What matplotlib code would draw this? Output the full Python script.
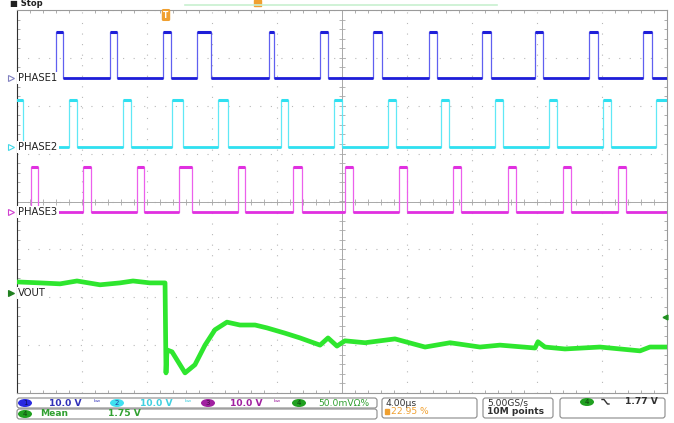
import numpy as np
import matplotlib.pyplot as plt
from matplotlib.patches import FancyBboxPatch, Ellipse, Rectangle

# time in us (4 us/div, 10 div), vertical in screen divisions (8 div)
phase1_pulses = [(-17.60, -17.17), (-14.28, -13.85), (-11.02, -10.52), (-8.92, -8.06),
                 (-4.49, -4.18), (-1.35, -0.86), (1.91, 2.46), (5.35, 5.85),
                 (8.62, 9.17), (11.88, 12.37), (15.20, 15.75), (18.52, 19.08)]
phase2_pulses = [(-21.0, -19.63), (-16.80, -16.31), (-13.48, -12.98), (-10.46, -9.78),
                 (-7.63, -7.02), (-3.75, -3.32), (-0.49, 0.0), (2.83, 3.32),
                 (6.09, 6.58), (9.42, 9.91), (12.74, 13.23), (16.06, 16.55), (19.32, 21.0)]
phase3_pulses = [(-19.14, -18.71), (-15.94, -15.45), (-12.62, -12.18), (-10.03, -9.23),
                 (-6.40, -5.97), (-3.02, -2.46), (0.18, 0.68), (3.51, 4.00),
                 (6.83, 7.32), (10.22, 10.71), (13.60, 14.09), (16.98, 17.48)]
phase1_lvl = (2.58, 3.54)
phase2_lvl = (1.14, 2.12)
phase3_lvl = (-0.22, 0.72)

vout_t = [-20.0, -18.58, -17.35, -16.31, -14.89, -13.66, -12.86, -11.82, -10.89, -10.83,
          -10.77, -10.46, -9.66, -9.05, -8.43, -7.82, -7.08, -6.28, -5.35, -4.62,
          -3.51, -2.58, -1.35, -0.86, -0.31, 0.18, 1.42, 3.26, 5.11, 6.65,
          8.49, 9.72, 11.88, 12.06, 12.49, 13.72, 15.88, 18.34, 18.95, 20.0]
vout_v = [-1.68, -1.70, -1.72, -1.66, -1.74, -1.70, -1.66, -1.70, -1.70, -3.58,
          -3.10, -3.14, -3.58, -3.41, -3.00, -2.68, -2.52, -2.58, -2.58, -2.64,
          -2.75, -2.85, -3.00, -2.85, -3.02, -2.91, -2.95, -2.87, -3.04, -2.95,
          -3.04, -3.00, -3.06, -2.93, -3.04, -3.08, -3.04, -3.12, -3.04, -3.04]

fig = plt.figure(figsize=(6.74, 4.23), dpi=100)
fig.patch.set_facecolor('white')
ax = fig.add_axes([17/674, 30/423, 650/674, 383/423])
ax.set_xlim(-20, 20)
ax.set_ylim(-4, 4)

# graticule
ax.set_xticks(np.arange(-20, 21, 4))
ax.set_yticks(np.arange(-4, 5, 1))
ax.set_xticks(np.arange(-20, 20.01, 0.8), minor=True)
ax.set_yticks(np.arange(-4, 4.01, 0.2), minor=True)
ax.tick_params(which='both', labelbottom=False, labelleft=False, length=0)
ax.tick_params(which='minor', direction='in', length=2.5, color='#a0a0a0',
               top=True, right=True, bottom=True, left=True, width=0.6)
ax.grid(True, which='major', color='#b8b8b8', lw=0.8, ls=(0, (1, 8.5)))
for s in ax.spines.values():
    s.set_color('#9a9a9a')
    s.set_linewidth(0.8)
ax.spines['left'].set_color('#303030')
ax.axhline(0, color='#a8a8a8', lw=0.7)
ax.axvline(0, color='#a8a8a8', lw=0.7)
mx = np.arange(-20, 20.01, 0.8)
my = np.arange(-4, 4.01, 0.2)
ax.plot(mx, np.zeros_like(mx), ls='none', marker='|', ms=4, color='#a8a8a8', mew=0.6)
ax.plot(np.zeros_like(my), my, ls='none', marker='_', ms=4, color='#a8a8a8', mew=0.6)


def draw_phase(pulses, lvl, edge_col, col):
    lo, hi = lvl
    xs, ys = [-20.5], [lo]
    for r, f in pulses:
        xs += [r, r, f, f]
        ys += [lo, hi, hi, lo]
    xs.append(20.5)
    ys.append(lo)
    ax.plot(xs, ys, color=edge_col, lw=0.9, zorder=3)
    starts = [-20.5] + [f for r, f in pulses]
    ends = [r for r, f in pulses] + [20.5]
    ax.hlines([lo] * len(starts), starts, ends, color=col, lw=2.0, zorder=4)
    ax.hlines([hi] * len(pulses), [r for r, f in pulses], [f for r, f in pulses],
              color=col, lw=2.2, zorder=4)


draw_phase(phase1_pulses, phase1_lvl, '#6060f0', '#1e1ed8')
draw_phase(phase2_pulses, phase2_lvl, '#60e8f6', '#30e0f0')
draw_phase(phase3_pulses, phase3_lvl, '#ec60ec', '#e030e0')
ax.plot(vout_t, vout_v, color='#2ee62e', lw=3.4, zorder=4, solid_joinstyle='round')

# channel labels
labels = [('PHASE1', phase1_lvl[0], '#8080c0', 'none'),
          ('PHASE2', phase2_lvl[0], '#40d8e8', 'none'),
          ('PHASE3', phase3_lvl[0], '#d040d0', 'none'),
          ('VOUT', -1.91, '#208020', '#208020')]
for name, y, ec, fc in labels:
    ax.text(-19.92, y, name, fontsize=7.2, color='#202020', va='center', ha='left',
            zorder=6, bbox=dict(boxstyle='square,pad=0.12', fc='white', ec='none'))
    ax.plot([-20.4], [y], marker='>', ms=5, mfc=fc, mec=ec, mew=0.8, clip_on=False, zorder=6)
ax.plot([19.85], [-2.42], marker='<', ms=3.5, color='#209020', clip_on=False, zorder=6)

# overlay for scope UI (pixel coordinates)
ov = fig.add_axes([0, 0, 1, 1])
ov.set_xlim(0, 674)
ov.set_ylim(423, 0)
ov.axis('off')
ov.patch.set_alpha(0)

ov.text(10, 4, '■ Stop', fontsize=6, color='#202020', va='center', ha='left', fontweight='bold')
ov.plot([185, 497], [5, 5], color='#c8f0d0', lw=1.2)
ov.add_patch(Rectangle((254, 0), 7, 6, color='#f0a030'))
ov.text(166, 15, 'T', fontsize=5.5, color='white', ha='center', va='center', fontweight='bold',
        bbox=dict(boxstyle='round,pad=0.2', fc='#f0a030', ec='none'))


def box(x0, y0, x1, y1):
    ov.add_patch(FancyBboxPatch((x0, y0), x1 - x0, y1 - y0, boxstyle='round,pad=0,rounding_size=2.5',
                                fc='white', ec='#8a8a8a', lw=0.8))


def badge(x, y, num, fc, tc):
    ov.add_patch(Ellipse((x, y), 14, 8, fc=fc, ec='none'))
    ov.text(x, y + 0.3, num, fontsize=5, color=tc, ha='center', va='center')


box(17, 398, 377, 408)
box(17, 409, 377, 419)
box(382, 398, 477, 418)
box(483, 398, 553, 418)
box(560, 398, 665, 418)

fs = 6.6
badge(25, 403, '1', '#2a2ae0', '#101060')
ov.text(49, 403, '10.0 V', fontsize=fs, color='#3030b8', va='center', fontweight='bold')
ov.text(97, 403, 'ᵇʷ', fontsize=5.5, color='#4040c0', va='center', ha='center')
badge(117, 403, '2', '#40e0f0', '#2040a0')
ov.text(140, 403, '10.0 V', fontsize=fs, color='#40d0e0', va='center', fontweight='bold')
ov.text(188, 403, 'ᵇʷ', fontsize=5.5, color='#40d0e0', va='center', ha='center')
badge(208, 403, '3', '#a020a0', '#401040')
ov.text(230, 403, '10.0 V', fontsize=fs, color='#a020a0', va='center', fontweight='bold')
ov.text(277, 403, 'ᵇʷ', fontsize=5.5, color='#a020a0', va='center', ha='center')
badge(299, 403, '4', '#20a020', '#104010')
ov.text(318, 403, '50.0mVΩ%', fontsize=fs, color='#30a030', va='center')

badge(25, 414, '4', '#20a020', '#104010')
ov.text(40, 414, 'Mean', fontsize=fs, color='#30a030', va='center', fontweight='bold')
ov.text(108, 414, '1.75 V', fontsize=fs, color='#30a030', va='center', fontweight='bold')

ov.text(385, 403, '4.00µs', fontsize=fs, color='#303030', va='center')
ov.add_patch(Rectangle((385, 409), 4, 5, color='#f0a030'))
ov.text(391, 412, '22.95 %', fontsize=fs, color='#f0a030', va='center')
ov.text(487, 403, '5.00GS/s', fontsize=fs, color='#303030', va='center')
ov.text(487, 412, '10M points', fontsize=fs, color='#303030', va='center', fontweight='bold')
badge(587, 402, '4', '#20a020', '#104010')
ov.plot([602, 604, 607.5, 609], [399.5, 399.5, 404, 404], color='#303030', lw=1)
ov.text(625, 402, '1.77 V', fontsize=fs, color='#303030', va='center', fontweight='bold')

fig.savefig('out.png', dpi=100)
